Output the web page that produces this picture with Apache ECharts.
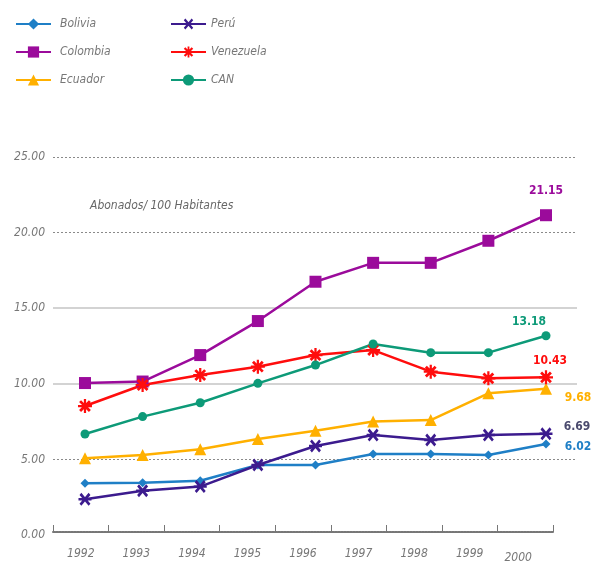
<!DOCTYPE html>
<html>
<head>
<meta charset="utf-8">
<script src="https://cdn.jsdelivr.net/npm/echarts@6/dist/echarts.min.js"></script>
<style>
html,body{margin:0;padding:0;background:#fff;}
#chart{width:596px;height:564px;}
</style>
</head>
<body>
<div id="chart"></div>
<script>
var years = ['1992','1993','1994','1995','1996','1997','1998','1999','2000'];
var bolivia   = [3.42, 3.46, 3.59, 4.63, 4.63, 5.36, 5.36, 5.29, 6.02];
var colombia  = [10.05, 10.15, 11.9, 14.15, 16.75, 18.0, 18.0, 19.46, 21.15];
var ecuador   = [5.07, 5.29, 5.67, 6.35, 6.9, 7.5, 7.6, 9.37, 9.68];
var peru      = [2.36, 2.93, 3.2, 4.63, 5.89, 6.61, 6.28, 6.61, 6.69];
var venezuela = [8.53, 9.92, 10.58, 11.13, 11.9, 12.23, 10.8, 10.36, 10.43];
var can       = [6.68, 7.83, 8.75, 10.03, 11.24, 12.63, 12.06, 12.06, 13.18];
var yTicks = [0, 5, 10, 15, 20, 25];
var unitLabel = 'Abonados/ 100 Habitantes';

var FONT = '"Liberation Sans Narrow","DejaVu Sans Condensed","Liberation Sans",sans-serif';

var peruSym = 'path://M-8.41,-5.59 L5.59,8.41 L8.41,5.59 L-5.59,-8.41 Z M-5.59,8.41 L8.41,-5.59 L5.59,-8.41 L-8.41,5.59 Z M-10,-1.6 L-10,1.6 L10,1.6 L10,-1.6 Z';
var venSym = 'path://M-8.41,-5.59 L5.59,8.41 L8.41,5.59 L-5.59,-8.41 Z M-5.59,8.41 L8.41,-5.59 L5.59,-8.41 L-8.41,5.59 Z M-10,-1.6 L-10,1.6 L10,1.6 L10,-1.6 Z M-1.6,-10 L-1.6,10 L1.6,10 L1.6,-10 Z';

function mk(name, vals, color, symbol, size, lblOffset, lblColor) {
  var data = vals.map(function (v, i) {
    var d = { value: [i, v] };
    if (i === vals.length - 1) {
      d.label = {
        show: true,
        position: 'inside',
        offset: lblOffset,
        formatter: function (p) { return p.value[1].toFixed(2); },
        color: lblColor || color,
        fontFamily: FONT,
        fontSize: 12,
        fontWeight: 'bold'
      };
    }
    return d;
  });
  return {
    name: name,
    type: 'line',
    xAxisIndex: 1,
    yAxisIndex: 0,
    data: data,
    symbol: symbol,
    symbolSize: size,
    showAllSymbol: true,
    lineStyle: { color: color, width: 2.5 },
    itemStyle: { color: color },
    emphasis: { disabled: true },
    animation: false,
    z: 3
  };
}

var chart = echarts.init(document.getElementById('chart'), null, { renderer: 'canvas' });

var dashedColors = yTicks.map(function (t) { return (t === 5 || t === 20 || t === 25) ? '#8a8a8a' : 'rgba(0,0,0,0)'; });
var solidColors = yTicks.map(function (t) { return (t === 10 || t === 15) ? '#c4c4c4' : 'rgba(0,0,0,0)'; });

function legendText(pad) {
  return { color: '#777', fontStyle: 'italic', fontFamily: FONT, fontSize: 12, padding: [0, 0, 0, pad] };
}

chart.setOption({
  backgroundColor: '#fff',
  animation: false,
  grid: [
    { left: 53, right: 19, top: 157, bottom: 29 },
    { left: 53, right: 43, top: 157, bottom: 29 }
  ],
  legend: [
    { data: ['Bolivia', 'Colombia', 'Ecuador'], orient: 'vertical', left: 10, top: 13,
      itemWidth: 35, itemHeight: 14, itemGap: 16, textStyle: legendText(4), selectedMode: false },
    { data: ['Perú', 'Venezuela', 'CAN'], orient: 'vertical', left: 165, top: 13,
      itemWidth: 35, itemHeight: 14, itemGap: 16, textStyle: legendText(0), selectedMode: false }
  ],
  graphic: [
    { type: 'text', left: 90, top: 200, silent: true,
      style: { text: unitLabel, fill: '#666', font: 'italic 12px ' + FONT } }
  ],
  xAxis: [
    { type: 'category', gridIndex: 1, data: years, boundaryGap: true,
      axisLine: { show: true, lineStyle: { color: '#777', width: 2, type: [2, 1] } },
      axisTick: { show: true, inside: true, length: 7, interval: 0, lineStyle: { color: '#777' } },
      axisLabel: { interval: 0, hideOverlap: false, color: '#777', fontStyle: 'italic', fontFamily: FONT, fontSize: 12, margin: 16,
        formatter: function (v, i) { return i === years.length - 1 ? '{u|' + v + '}' : v; },
        rich: { u: { color: '#777', fontStyle: 'italic', fontFamily: FONT, fontSize: 12, padding: [4, 14, 0, 0] } } },
      splitLine: { show: false } },
    { type: 'value', gridIndex: 0, min: -0.555, max: 8.538, show: false }
  ],
  yAxis: [
    { type: 'value', gridIndex: 0, min: 0, max: 25, interval: 5,
      axisLine: { show: false }, axisTick: { show: false },
      axisLabel: { color: '#777', fontStyle: 'italic', fontFamily: FONT, fontSize: 12, margin: 8,
        formatter: function (v) { return v.toFixed(2); } },
      splitLine: { show: true, lineStyle: { color: dashedColors, type: [2, 2], width: 1 } } },
    { type: 'value', gridIndex: 0, min: 0, max: 25, interval: 5,
      axisLine: { show: false }, axisTick: { show: false }, axisLabel: { show: false },
      splitLine: { show: true, lineStyle: { color: solidColors, type: 'solid', width: 1.5 } } },
    { type: 'value', gridIndex: 1, min: 0, max: 25, show: false, splitLine: { show: false } }
  ],
  series: [
    mk('Bolivia', bolivia, '#1f7fc6', 'diamond', 9, [32, 3], '#1f7fc6'),
    mk('Colombia', colombia, '#9b0b9b', 'rect', 12, [0, -24], '#9b0b9b'),
    mk('Ecuador', ecuador, '#ffb000', 'triangle', 12, [32, 9], '#ffb000'),
    mk('Perú', peru, '#3c1b8e', peruSym, 13, [31, -7], '#4b4b6e'),
    mk('Venezuela', venezuela, '#ff0d0d', venSym, 14, [4, -16], '#ff0d0d'),
    mk('CAN', can, '#0d9a78', 'circle', 9, [-17, -14], '#0d9a78')
  ]
});
</script>
</body>
</html>
